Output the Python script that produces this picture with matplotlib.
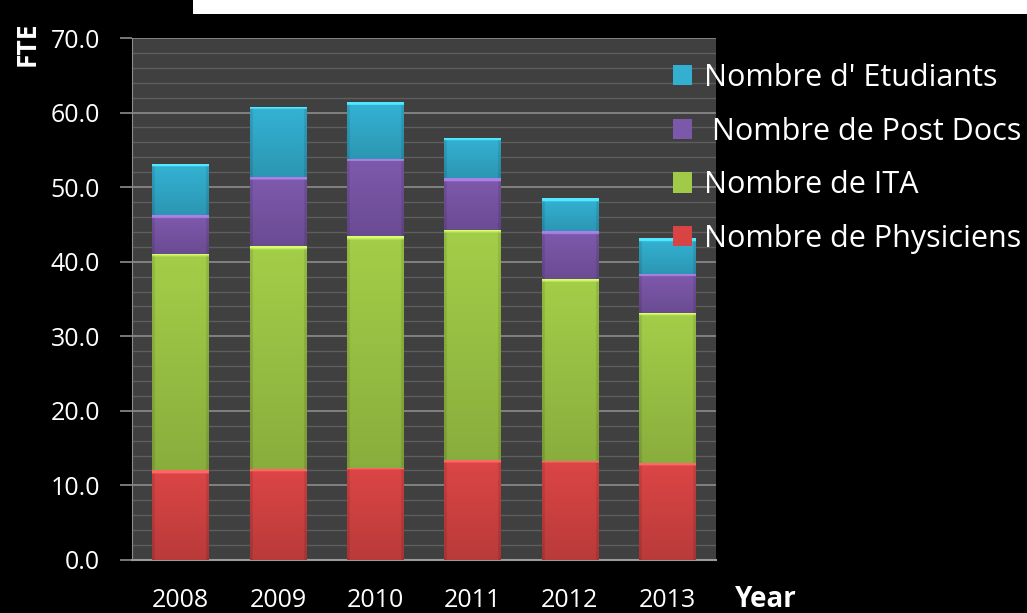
import numpy as np
import matplotlib
matplotlib.use("Agg")
import matplotlib.pyplot as plt
from matplotlib.patches import Rectangle
from matplotlib.colors import to_rgb

plt.rcParams['font.family'] = ['Open Sans', 'DejaVu Sans']

years = ['2008', '2009', '2010', '2011', '2012', '2013']
physiciens = [12.0, 12.2, 12.4, 13.4, 13.3, 13.0]
ita = [29.0, 29.9, 31.0, 30.9, 24.4, 20.1]
postdocs = [5.2, 9.2, 10.4, 6.9, 6.4, 5.3]
etudiants = [6.9, 9.4, 7.6, 5.4, 4.4, 4.8]

series = [
    ('Nombre de Physiciens', physiciens, '#d84444'),
    ('Nombre de ITA', ita, '#a0ca47'),
    (' Nombre de Post Docs', postdocs, '#7c58aa'),
    ("Nombre d' Etudiants", etudiants, '#33afd0'),
]

fig = plt.figure(figsize=(10.27, 6.13), dpi=100, facecolor='black')
ax = fig.add_axes([0.1285, 0.0865, 0.5685, 0.8515])
ax.set_facecolor('#404040')

# white strip across the top
fig.patches.append(Rectangle((0.188, 0.977), 0.812, 0.023, transform=fig.transFigure,
                             facecolor='white', edgecolor='none'))

x = np.arange(len(years))
bottom = np.zeros(len(years))
handles = []
for label, vals, col in series:
    bars = ax.bar(x, vals, width=0.58, bottom=bottom, color=col, label=label,
                  zorder=3, edgecolor='none')
    handles.append(bars)
    base = np.array(to_rgb(col))
    for p in bars.patches:
        x0, y0 = p.get_x(), p.get_y()
        w, h = p.get_width(), p.get_height()
        ny, nx = 80, 40
        t = np.linspace(1, 0, ny)[:, None]          # 1 at top, 0 at bottom
        s = np.linspace(-1, 1, nx)[None, :]
        shade = 0.86 + 0.16 * t - 0.10 * (np.abs(s) > 0.93)
        img = np.clip(base[None, None, :] * shade[:, :, None], 0, 1)
        # light bevel along the top edge
        top_rows = max(1, int(ny * 0.45 / max(h, 0.5)))
        img[:top_rows] = np.clip(base * 1.22 + 0.08, 0, 1)
        im = ax.imshow(img, extent=(x0, x0 + w, y0, y0 + h), aspect='auto',
                       zorder=4, interpolation='bilinear')
        im.set_clip_path(p)
    bottom += np.array(vals)

ax.set_xlim(-0.5, len(years) - 0.5)
ax.set_ylim(0, 70)
ax.set_yticks(np.arange(0, 71, 10))
ax.set_yticks(np.arange(0, 71, 2), minor=True)
ax.yaxis.set_major_formatter(matplotlib.ticker.FormatStrFormatter('%.1f'))
ax.grid(axis='y', which='major', color='#8c8c8c', lw=1.2, zorder=1)
ax.grid(axis='y', which='minor', color='#5e5e5e', lw=1.0, zorder=1)
ax.set_xticks(x)
ax.set_xticklabels(years)
ax.tick_params(axis='x', length=0, pad=20, labelsize=18, colors='white')
ax.tick_params(axis='y', which='major', length=9, width=1.2, color='#8c8c8c',
               labelsize=18, labelcolor='white', pad=14)
ax.tick_params(axis='y', which='minor', length=0)
for side in ['top', 'right']:
    ax.spines[side].set_visible(False)
ax.spines['left'].set_color('#8c8c8c')
ax.spines['bottom'].set_color('#9a9a9a')
ax.spines['bottom'].set_linewidth(1.5)

fig.text(0.026, 0.928, 'FTE', rotation=90, color='white', fontsize=19,
         fontweight='bold', ha='center', va='center')
fig.text(0.746, 0.022, 'Year', color='white', fontsize=20, fontweight='bold',
         ha='center', va='center')

leg = fig.legend(handles[::-1], [s[0] for s in series[::-1]],
                 loc='upper left', bbox_to_anchor=(0.643, 0.917),
                 frameon=False, fontsize=22, labelcolor='white',
                 handlelength=0.64, handleheight=0.64, handletextpad=0.38,
                 labelspacing=0.77, borderaxespad=0)

fig.savefig('out.png', dpi=100, facecolor='black')
